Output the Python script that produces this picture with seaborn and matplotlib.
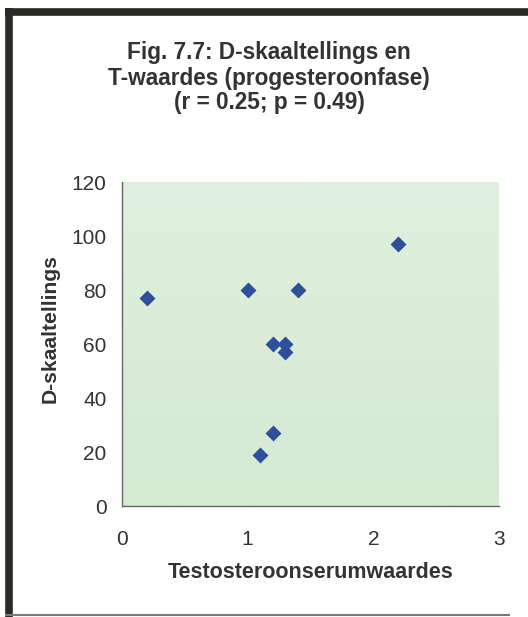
import numpy as np
import pandas as pd
import matplotlib
matplotlib.use("Agg")
import matplotlib.pyplot as plt
from matplotlib.lines import Line2D
from matplotlib.colors import LinearSegmentedColormap
import seaborn as sns

# Testosterone serum values and D-scale scores (progesterone phase)
testosteroon = [0.2, 1.0, 1.4, 1.2, 1.3, 1.3, 2.2, 1.2, 1.1]
d_skaal = [77, 80, 80, 60, 60, 57, 97, 27, 19]

x_ticks = [0, 1, 2, 3]
y_ticks = [0, 20, 40, 60, 80, 100, 120]

title_lines = ["Fig. 7.7: D-skaaltellings en",
               "T-waardes (progesteroonfase)",
               "(r = 0.25; p = 0.49)"]
x_label = "Testosteroonserumwaardes"
y_label = "D-skaaltellings"

df = pd.DataFrame({"x": testosteroon, "y": d_skaal})

sns.set_theme(style="white")
plt.rcParams["font.family"] = ["Liberation Sans", "DejaVu Sans"]

text_col = "#333333"
W, H = 528, 617
fig = plt.figure(figsize=(W / 100, H / 100), dpi=100)
fig.patch.set_facecolor("white")

ax = fig.add_axes([122 / W, 1 - 506 / H, (499 - 122) / W, (506 - 182) / H])

# soft green plot area, slightly lighter towards the top
grad = LinearSegmentedColormap.from_list("bg", ["#d5e9d3", "#e0f0de"])
ax.imshow(np.linspace(0, 1, 256).reshape(-1, 1), cmap=grad, origin="lower",
          aspect="auto", extent=[0, 1, 0, 1], transform=ax.transAxes, zorder=0)

sns.scatterplot(data=df, x="x", y="y", marker="D", s=66, color="#2e4f9a",
                linewidth=0, ax=ax, zorder=3)

ax.set_xlim(0, 3)
ax.set_ylim(0, 120)
ax.set_xticks(x_ticks)
ax.set_yticks(y_ticks)
ax.set_xticklabels([str(v) for v in x_ticks])
ax.set_yticklabels([str(v) for v in y_ticks])

for s in ["top", "right"]:
    ax.spines[s].set_visible(False)
for s in ["left", "bottom"]:
    ax.spines[s].set_color("#666666")
    ax.spines[s].set_linewidth(1.0)

ax.tick_params(axis="both", which="major", direction="out", length=5,
               width=1.0, color="#666666", labelsize=15, labelcolor=text_col)
ax.tick_params(axis="x", pad=12)
ax.tick_params(axis="y", pad=6)

ax.set_xlabel(x_label, fontsize=15.5, fontweight="bold", color=text_col)
ax.set_ylabel(y_label, fontsize=15.2, fontweight="bold", color=text_col)
ax.xaxis.set_label_coords((311 - 122) / (499 - 122), -(573 - 506) / (506 - 182))
ax.yaxis.set_label_coords(-(122 - 50) / (499 - 122), (506 - 329) / (506 - 182))
ax.xaxis.label.set_va("center")
ax.yaxis.label.set_va("center")

for yy, line in zip([53, 78, 102], title_lines):
    fig.text(269 / W, 1 - yy / H, line, ha="center", va="center", fontsize=16.3,
             fontweight="bold", color=text_col)

# frame around the figure
frame = "#2a2a24"
fig.add_artist(Line2D([5 / W, 1.0], [1 - 11.5 / H] * 2, color=frame, lw=5.5,
                      transform=fig.transFigure, solid_capstyle="butt"))
fig.add_artist(Line2D([8.5 / W] * 2, [0, 1 - 8 / H], color=frame, lw=5.5,
                      transform=fig.transFigure, solid_capstyle="butt"))
fig.add_artist(Line2D([5 / W, 510 / W], [1 - 615 / H] * 2, color="#7a7a7a", lw=1.5,
                      transform=fig.transFigure, solid_capstyle="butt"))

fig.savefig("out.png", dpi=100)
